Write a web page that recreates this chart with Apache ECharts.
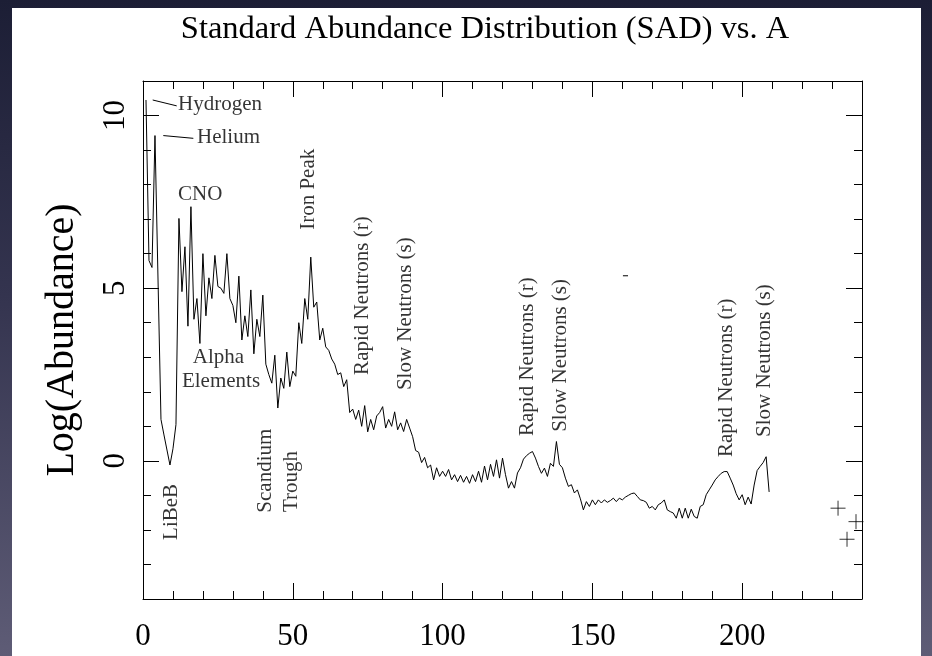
<!DOCTYPE html>
<html>
<head>
<meta charset="utf-8">
<script src="https://cdn.jsdelivr.net/npm/echarts@6/dist/echarts.min.js"></script>
<style>
html,body{margin:0;padding:0;background:#1d1f36;}
#c{width:932px;height:656px;background:linear-gradient(180deg,#1c1e35 0%,#34344f 45%,#5e5c76 100%);}
</style>
</head>
<body>
<div id="c"></div>
<script>
// ---- data ----
const massNumber = [
  1, 2, 3, 4, 6, 7, 9, 10, 11,
  12, 13, 14, 15, 16, 17, 18, 19, 20,
  21, 22, 23, 24, 25, 26, 27, 28, 29, 30,
  31, 32, 33, 34, 35, 36, 37, 38, 39, 40,
  41, 42, 43, 44, 45, 46, 47, 48, 49, 50,
  51, 52, 53, 54, 55, 56, 57, 58, 59, 60,
  61, 62, 63, 64, 65, 66, 67, 68, 69, 70,
  71, 72, 73, 74, 75, 76, 77, 78, 79, 80,
  81, 82, 83, 84, 85, 86, 87, 88, 89, 90,
  91, 92, 93, 94, 95, 96, 97, 98, 99, 100,
  101, 102, 103, 104, 105, 106, 107, 108, 109, 110,
  111, 112, 113, 114, 115, 116, 117, 118, 119, 120,
  121, 122, 123, 124, 125, 126, 127, 128, 129, 130,
  131, 132, 133, 134, 135, 136, 137, 138, 139, 140,
  141, 142, 143, 144, 145, 146, 147, 148, 149, 150,
  151, 152, 153, 154, 155, 156, 157, 158, 159, 160,
  161, 162, 163, 164, 165, 166, 167, 168, 169, 170,
  171, 172, 173, 174, 175, 176, 177, 178, 179, 180,
  181, 182, 183, 184, 185, 186, 187, 188, 189, 190,
  191, 192, 193, 194, 195, 196, 197, 198, 199, 200,
  201, 202, 203, 204, 205, 206, 207, 208, 209
];
const logAbundance = [
  10.45, 5.8, 5.6, 9.42, 1.2, 0.75, -0.12, 0.35, 1.05,
  7.02, 4.9, 6.2, 3.9, 7.36, 4.1, 4.7, 3.4, 6.0,
  4.2, 5.3, 4.7, 5.95, 5.05, 5.0, 4.85, 6.0, 4.7, 4.5,
  4.0, 5.35, 3.5, 4.2, 3.6, 4.95, 3.1, 4.1, 3.6, 4.8,
  2.8, 2.5, 2.25, 3.06, 1.53, 2.4, 2.1, 3.15, 2.15, 2.6,
  2.45, 4.0, 3.4, 4.7, 4.1, 5.9, 4.45, 4.6, 3.5, 3.84,
  3.3, 3.2, 2.95, 2.8, 2.5, 2.55, 2.15, 2.35, 1.4, 1.5,
  1.2, 1.47, 1.0, 1.6, 0.84, 1.2, 0.9, 1.3, 1.4, 1.57,
  0.95, 1.2, 1.0, 1.42, 0.9, 1.1, 0.85, 1.2, 0.95, 0.7,
  0.3, 0.25, -0.05, 0.1, -0.2, -0.12, -0.55, -0.2, -0.45, -0.3,
  -0.45, -0.25, -0.55, -0.4, -0.6, -0.42, -0.62, -0.45, -0.65, -0.4,
  -0.6, -0.3, -0.62, -0.15, -0.55, -0.1, -0.45, 0.03, -0.5, 0.08,
  -0.4, -0.79, -0.6, -0.79, -0.35, -0.2, 0.05, 0.15, 0.22, 0.27,
  0.08, -0.16, -0.36, -0.21, -0.45, -0.07, -0.16, 0.56, -0.1, -0.2,
  -0.5, -0.74, -0.69, -0.93, -0.84, -1.1, -1.42, -1.18, -1.32, -1.13,
  -1.27, -1.13, -1.22, -1.13, -1.2, -1.15, -1.08, -1.18, -1.08, -1.13,
  -1.05, -1.0, -0.95, -0.93, -1.03, -1.13, -1.15, -1.2, -1.37, -1.32,
  -1.42, -1.27, -1.22, -1.13, -1.42, -1.47, -1.51, -1.66, -1.37, -1.66,
  -1.37, -1.66, -1.4, -1.61, -1.66, -1.32, -1.27, -0.98, -0.84, -0.7,
  -0.55, -0.45, -0.36, -0.31, -0.31, -0.5, -0.7, -0.95, -1.13, -0.98,
  -1.27, -1.05, -1.25, -0.7, -0.28, -0.16, -0.05, 0.12, -0.9
];
// actinides drawn as "+" marks
const actinideMass = [232, 235, 238];
const actinideAbundance = [-1.37, -2.27, -1.76];

const xTickLabels = ['0', '50', '100', '150', '200'];
const yTickLabels = ['0', '5', '10'];
const titleText = 'Standard Abundance Distribution (SAD) vs. A';
const yAxisTitle = 'Log(Abundance)';

// annotation texts with their anchor in data units (A, log abundance)
const annotations = [
  { text: 'Hydrogen', at: [11.68, 10.31], rotate: 0, align: 'left' },
  { text: 'Helium', at: [18.02, 9.35], rotate: 0, align: 'left' },
  { text: 'CNO', at: [11.68, 7.70], rotate: 0, align: 'left' },
  { text: 'Iron Peak', at: [55.24, 6.69], rotate: 90, align: 'left' },
  { text: 'Alpha', at: [25.2, 2.98], rotate: 0, align: 'center' },
  { text: 'Elements', at: [26.03, 2.29], rotate: 0, align: 'center' },
  { text: 'LiBeB', at: [9.51, -2.29], rotate: 90, align: 'left' },
  { text: 'Scandium', at: [40.89, -1.50], rotate: 90, align: 'left' },
  { text: 'Trough', at: [49.57, -1.48], rotate: 90, align: 'left' },
  { text: 'Rapid Neutrons (r)', at: [73.26, 2.49], rotate: 90, align: 'left' },
  { text: 'Slow Neutrons (s)', at: [87.78, 2.05], rotate: 90, align: 'left' },
  { text: 'Rapid Neutrons (r)', at: [128.3, 0.72], rotate: 90, align: 'left' },
  { text: 'Slow Neutrons (s)', at: [139.2, 0.84], rotate: 90, align: 'left' },
  { text: 'Rapid Neutrons (r)', at: [194.6, 0.11], rotate: 90, align: 'left' },
  { text: 'Slow Neutrons (s)', at: [207.6, 0.69], rotate: 90, align: 'left' }
];
// leader lines (data units)
const hydrogenLeader = [[3.24, 10.45], [11.25, 10.28]];
const heliumLeader = [[6.78, 9.42], [16.8, 9.34]];
const strayDash = [[160.2, 5.36], [161.9, 5.36]];

// ---- chart ----
const FONT = '"Liberation Serif", "Times New Roman", Times, serif';
const BLACK = '#000';
const X_MIN = 0, X_MAX = 240, Y_MIN = -4, Y_MAX = 11;

const seriesData = massNumber.map((a, i) => [a, logAbundance[i]]);
const actinideData = actinideMass.map((a, i) => [a, actinideAbundance[i]]);

function xAxisDef(position, major, withLabels) {
  return {
    type: 'value', position: position, min: X_MIN, max: X_MAX,
    interval: major ? 50 : 10,
    axisLine: { show: !major, onZero: false, lineStyle: { color: BLACK, width: 1 } },
    axisTick: major
      ? { show: true, inside: true, length: 16, customValues: xTickLabels.map(Number), lineStyle: { color: BLACK, width: 1 } }
      : { show: true, inside: true, length: 8, lineStyle: { color: BLACK, width: 1 } },
    axisLabel: withLabels ? {
      show: true, margin: 22, color: BLACK, fontFamily: FONT, fontSize: 31,
      formatter: v => (xTickLabels.indexOf(String(v)) >= 0 ? String(v) : '')
    } : { show: false },
    splitLine: { show: false },
    axisPointer: { show: false }
  };
}
function yAxisDef(position, major, withLabels) {
  const def = {
    type: 'value', position: position, min: Y_MIN, max: Y_MAX,
    interval: 1,
    axisLine: { show: !major, onZero: false, lineStyle: { color: BLACK, width: 1 } },
    axisTick: major
      ? { show: true, inside: true, length: 16, customValues: yTickLabels.map(Number), lineStyle: { color: BLACK, width: 1 } }
      : { show: true, inside: true, length: 8, lineStyle: { color: BLACK, width: 1 } },
    axisLabel: withLabels ? {
      show: true, margin: 12, rotate: 90, color: BLACK, fontFamily: FONT, fontSize: 31,
      formatter: v => (yTickLabels.indexOf(String(v)) >= 0 ? String(v) : '')
    } : { show: false },
    splitLine: { show: false },
    axisPointer: { show: false }
  };
  if (withLabels) {
    def.name = yAxisTitle;
    def.nameLocation = 'middle';
    def.nameRotate = 90;
    def.nameGap = 61;
    def.nameTextStyle = { color: BLACK, fontFamily: FONT, fontSize: 40 };
  }
  return def;
}

const lineCommon = { type: 'line', symbol: 'none', silent: true, xAxisIndex: 0, yAxisIndex: 0,
  lineStyle: { color: BLACK, width: 1 }, animation: false };

const option = {
  animation: false,
  graphic: [
    { type: 'rect', z: -10, silent: true, shape: { x: 12, y: 8, width: 909, height: 648 }, style: { fill: '#ffffff' } },
    { type: 'text', z: 10, silent: true, x: 485, y: 29,
      style: { text: titleText, fill: BLACK, font: '32.5px ' + FONT, textAlign: 'center', textVerticalAlign: 'middle' } }
  ],
  grid: { left: 143, right: 70, top: 81, bottom: 57, containLabel: false, show: false },
  xAxis: [
    xAxisDef('bottom', false, true),
    xAxisDef('bottom', true, false),
    xAxisDef('top', false, false),
    xAxisDef('top', true, false)
  ],
  yAxis: [
    yAxisDef('left', false, true),
    yAxisDef('left', true, false),
    yAxisDef('right', false, false),
    yAxisDef('right', true, false)
  ],
  series: [
    Object.assign({}, lineCommon, { name: 'SAD', data: seriesData, z: 3 }),
    Object.assign({}, lineCommon, { name: 'H leader', data: hydrogenLeader }),
    Object.assign({}, lineCommon, { name: 'He leader', data: heliumLeader }),
    Object.assign({}, lineCommon, { name: 'dash', data: strayDash }),
    {
      type: 'scatter', name: 'Actinides', silent: true, xAxisIndex: 0, yAxisIndex: 0,
      symbol: 'path://M0,-1L0,1M-1,0L1,0', symbolSize: 15,
      itemStyle: { color: 'rgba(0,0,0,0)', borderColor: BLACK, borderWidth: 1 },
      data: actinideData
    },
    {
      type: 'scatter', name: 'Annotations', silent: true, xAxisIndex: 0, yAxisIndex: 0,
      symbolSize: 1, itemStyle: { color: 'rgba(0,0,0,0)' },
      data: annotations.map(a => ({
        value: a.at,
        label: { show: true, position: 'inside', formatter: a.text, rotate: a.rotate,
                 align: a.align, verticalAlign: 'middle',
                 color: BLACK, fontFamily: FONT, fontSize: 21 }
      }))
    }
  ]
};

const chart = echarts.init(document.getElementById('c'), null, { renderer: 'canvas', width: 932, height: 656 });
chart.setOption(option);
</script>
</body>
</html>
